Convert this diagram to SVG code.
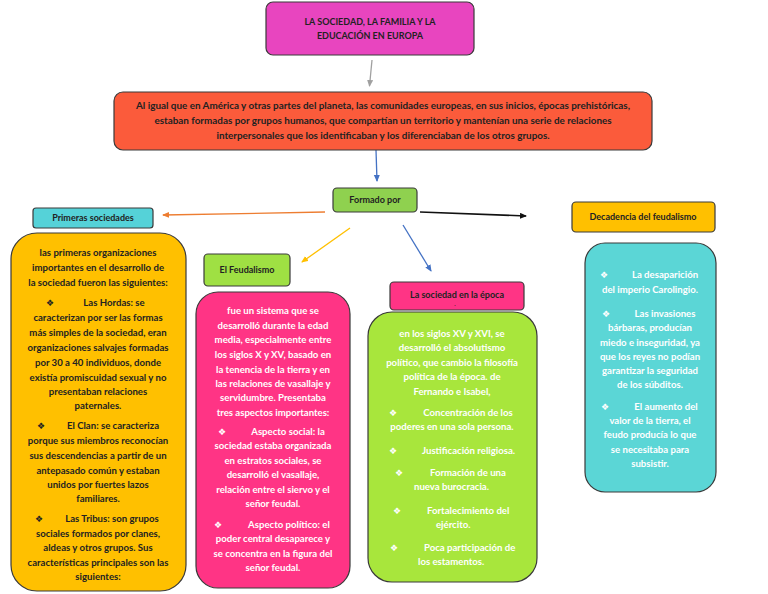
<svg xmlns="http://www.w3.org/2000/svg" width="768" height="594" viewBox="0 0 768 594">
<style>
.box{stroke:#3a3a3a;stroke-width:1.2}
.t{font-family:Lato,"Liberation Sans",sans-serif;font-size:9.6px;text-anchor:middle}
.d{fill:#222;font-weight:bold}
.w{fill:#fff;font-weight:bold}
.h{font-family:Lato,"Liberation Sans",sans-serif;font-size:9px;font-weight:bold;fill:#222;text-anchor:middle}
.r{font-size:9.9px}
.b{font-family:"DejaVu Sans",sans-serif;font-size:9px}
.l{text-anchor:start}
</style>
<defs>
<marker id="ag" markerWidth="8" markerHeight="8" refX="6" refY="3" orient="auto" markerUnits="userSpaceOnUse"><path d="M0,0 L7,3 L0,6 z" fill="#a0a0a0"/></marker>
<marker id="ab" markerWidth="8" markerHeight="8" refX="6" refY="3" orient="auto" markerUnits="userSpaceOnUse"><path d="M0,0 L7,3 L0,6 z" fill="#4472c4"/></marker>
<marker id="ao" markerWidth="8" markerHeight="8" refX="6" refY="3" orient="auto" markerUnits="userSpaceOnUse"><path d="M0,0 L7,3 L0,6 z" fill="#ed7d31"/></marker>
<marker id="ak" markerWidth="8" markerHeight="8" refX="6" refY="3" orient="auto" markerUnits="userSpaceOnUse"><path d="M0,0 L7,3 L0,6 z" fill="#111"/></marker>
<marker id="ay" markerWidth="8" markerHeight="8" refX="6" refY="3" orient="auto" markerUnits="userSpaceOnUse"><path d="M0,0 L7,3 L0,6 z" fill="#ffc000"/></marker>
</defs>
<rect width="768" height="594" fill="#fff"/>
<g id="connectors" fill="none" stroke-width="1.3">
<line x1="372" y1="60" x2="369.5" y2="86" stroke="#a0a0a0" marker-end="url(#ag)"/>
<line x1="376" y1="150" x2="377" y2="181" stroke="#4472c4" marker-end="url(#ab)"/>
<line x1="325" y1="212" x2="163" y2="215" stroke="#ed7d31" marker-end="url(#ao)"/>
<line x1="420" y1="212" x2="526" y2="216" stroke="#111" stroke-width="1.6" marker-end="url(#ak)"/>
<line x1="350" y1="228" x2="302" y2="262" stroke="#ffc000" marker-end="url(#ay)"/>
<line x1="403" y1="225" x2="431" y2="271" stroke="#4472c4" marker-end="url(#ab)"/>
</g>
<g id="title">
<rect class="box" x="266" y="2" width="208" height="53" rx="7" fill="#e845bf"/>
<text class="h" x="370" y="25">LA SOCIEDAD, LA FAMILIA Y LA</text>
<text class="h" x="370" y="39">EDUCACIÓN EN EUROPA</text>
</g>
<g id="intro">
<rect class="box" x="114" y="92" width="538" height="58" rx="9" fill="#fb5b3b"/>
<text class="h r" x="383" y="109">Al igual que en América y otras partes del planeta, las comunidades europeas, en sus inicios, épocas prehistóricas,</text>
<text class="h r" x="383" y="124">estaban formadas por grupos humanos, que compartían un territorio y mantenían una serie de relaciones</text>
<text class="h r" x="383" y="139">interpersonales que los identificaban y los diferenciaban de los otros grupos.</text>
</g>
<g id="formado">
<rect class="box" x="333" y="188" width="84" height="24" rx="4" fill="#8fd14f"/>
<text class="h" x="375" y="203">Formado por</text>
</g>
<g id="primeras">
<rect class="box" x="33" y="208" width="120" height="20" rx="3" fill="#55d2d8"/>
<text class="h" x="93" y="221">Primeras sociedades</text>
</g>
<g id="primeras-text">
<rect class="box" x="11" y="233" width="175" height="358" rx="26" fill="#ffc000"/>
<g class="t d">
<text x="98" y="256">las primeras organizaciones</text>
<text x="98" y="271">importantes en el desarrollo de</text>
<text x="98" y="286">la sociedad fueron las siguientes:</text>
<text x="50" y="306" class="b">❖</text><text x="114" y="306">Las Hordas: se</text>
<text x="98" y="321">caracterizan por ser las formas</text>
<text x="98" y="336">más simples de la sociedad, eran</text>
<text x="98" y="351">organizaciones salvajes formadas</text>
<text x="98" y="366">por 30 a 40 individuos, donde</text>
<text x="98" y="381">existía promiscuidad sexual y no</text>
<text x="98" y="395">presentaban relaciones</text>
<text x="98" y="409">paternales.</text>
<text x="41" y="429" class="b">❖</text><text x="113" y="429">El Clan: se caracteriza</text>
<text x="98" y="444">porque sus miembros reconocían</text>
<text x="98" y="459">sus descendencias a partir de un</text>
<text x="98" y="474">antepasado común y estaban</text>
<text x="98" y="488">unidos por fuertes lazos</text>
<text x="98" y="502">familiares.</text>
<text x="39" y="522" class="b">❖</text><text x="112" y="522">Las Tribus: son grupos</text>
<text x="98" y="537">sociales formados por clanes,</text>
<text x="98" y="551">aldeas y otros grupos. Sus</text>
<text x="98" y="566">características principales son las</text>
<text x="98" y="580">siguientes:</text>
</g>
</g>
<g id="feudalismo">
<rect class="box" x="204" y="254" width="86" height="32" rx="4" fill="#9fe043"/>
<text class="h" x="247" y="273">El Feudalismo</text>
</g>
<g id="feudalismo-text">
<rect class="box" x="196" y="292" width="154" height="296" rx="22" fill="#ff3485"/>
<g class="t w">
<text x="273" y="314">fue un sistema que se</text>
<text x="273" y="329">desarrolló durante la edad</text>
<text x="273" y="343">media, especialmente entre</text>
<text x="273" y="358">los siglos X y XV, basado en</text>
<text x="273" y="373">la tenencia de la tierra y en</text>
<text x="273" y="387">las relaciones de vasallaje y</text>
<text x="273" y="401">servidumbre. Presentaba</text>
<text x="273" y="416">tres aspectos importantes:</text>
<text x="222" y="435" class="b">❖</text><text x="288" y="435">Aspecto social: la</text>
<text x="273" y="449">sociedad estaba organizada</text>
<text x="273" y="464">en estratos sociales, se</text>
<text x="273" y="478">desarrolló el vasallaje,</text>
<text x="273" y="493">relación entre el siervo y el</text>
<text x="273" y="507">señor feudal.</text>
<text x="218" y="528" class="b">❖</text><text x="289" y="528">Aspecto político: el</text>
<text x="273" y="542">poder central desaparece y</text>
<text x="273" y="557">se concentra en la figura del</text>
<text x="273" y="571">señor feudal.</text>
</g>
</g>
<g id="epoca">
<rect class="box" x="390" y="282" width="134" height="28" rx="4" fill="#ff3485"/>
<text class="h" x="457" y="298">La sociedad en la época</text>
<text class="h" x="455" y="306" style="font-size:6px">.</text>
</g>
<g id="epoca-text">
<rect class="box" x="368" y="312" width="169" height="270" rx="24" fill="#a8e63c"/>
<g class="t w">
<text x="452" y="337">en los siglos XV y XVI, se</text>
<text x="452" y="351">desarrolló el absolutismo</text>
<text x="452" y="366">político, que cambio la filosofía</text>
<text x="452" y="380">política de la época. de</text>
<text x="452" y="395">Fernando e Isabel,</text>
<text x="393" y="416" class="b">❖</text><text x="468" y="416">Concentración de los</text>
<text x="452" y="430">poderes en una sola persona.</text>
<text x="393" y="454" class="b">❖</text><text x="422" y="454" class="l">Justificación religiosa.</text>
<text x="399" y="476" class="b">❖</text><text x="430" y="476" class="l">Formación de una</text>
<text x="414" y="490" class="l">nueva burocracia.</text>
<text x="397" y="514" class="b">❖</text><text x="427" y="514" class="l">Fortalecimiento del</text>
<text x="436" y="528" class="l">ejército.</text>
<text x="394" y="551" class="b">❖</text><text x="424" y="551" class="l">Poca participación de</text>
<text x="418" y="565" class="l">los estamentos.</text>
</g>
</g>
<g id="decadencia">
<rect class="box" x="572" y="202" width="143" height="30" rx="4" fill="#ffc000"/>
<text class="h" x="643" y="220">Decadencia del feudalismo</text>
</g>
<g id="decadencia-text">
<rect class="box" x="585" y="243" width="131" height="249" rx="20" fill="#5bd6d6"/>
<g class="t w">
<text x="604" y="278" class="b">❖</text><text x="665" y="278">La desaparición</text>
<text x="650" y="293">del imperio Carolingio.</text>
<text x="606" y="317" class="b">❖</text><text x="665" y="317">Las invasiones</text>
<text x="650" y="331">bárbaras, producían</text>
<text x="650" y="346">miedo e inseguridad, ya</text>
<text x="650" y="360">que los reyes no podían</text>
<text x="650" y="374">garantizar la seguridad</text>
<text x="650" y="388">de los súbditos.</text>
<text x="605" y="410" class="b">❖</text><text x="666" y="410">El aumento del</text>
<text x="650" y="424">valor de la tierra, el</text>
<text x="650" y="438">feudo producía lo que</text>
<text x="650" y="453">se necesitaba para</text>
<text x="650" y="467">subsistir.</text>
</g>
</g>
</svg>
